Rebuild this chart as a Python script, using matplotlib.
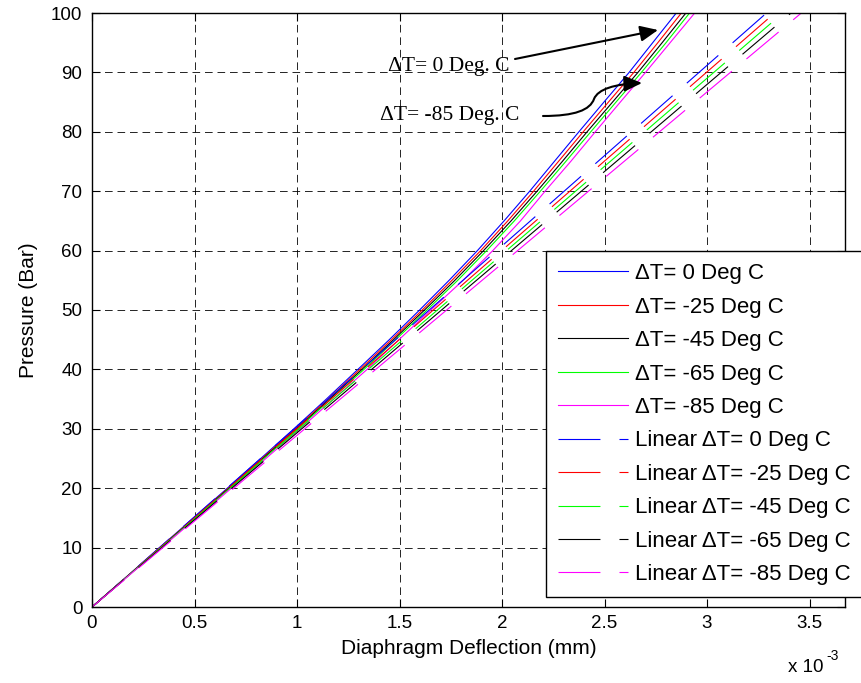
import matplotlib.pyplot as plt
from matplotlib.patches import FancyArrowPatch
from matplotlib.path import Path

plt.rcParams['font.family'] = ['Liberation Sans', 'DejaVu Sans']
plt.rcParams['lines.scale_dashes'] = False

# ===== data (deflection in units of 1e-3 mm) =====
pressure = [0, 5, 10, 15, 20, 25, 30, 35, 40, 45, 50,
            55, 60, 65, 70, 75, 80, 85, 90, 95, 100]

defl_0 = [0, 0.165, 0.330, 0.495, 0.660, 0.823, 0.985, 1.143, 1.297, 1.450, 1.598,
          1.742, 1.880, 2.010, 2.135, 2.255, 2.375, 2.497, 2.620, 2.735, 2.850]
defl_25 = [0, 0.166, 0.332, 0.499, 0.665, 0.829, 0.992, 1.151, 1.307, 1.461, 1.611,
           1.756, 1.896, 2.028, 2.154, 2.275, 2.396, 2.519, 2.643, 2.760, 2.875]
defl_45 = [0, 0.167, 0.334, 0.502, 0.669, 0.834, 0.998, 1.159, 1.317, 1.471, 1.622,
           1.770, 1.910, 2.044, 2.171, 2.294, 2.415, 2.539, 2.663, 2.781, 2.897]
defl_65 = [0, 0.168, 0.336, 0.505, 0.673, 0.839, 1.005, 1.166, 1.327, 1.481, 1.634,
           1.784, 1.925, 2.060, 2.187, 2.311, 2.433, 2.556, 2.680, 2.800, 2.915]
defl_85 = [0, 0.170, 0.340, 0.510, 0.680, 0.848, 1.015, 1.178, 1.342, 1.497, 1.653,
           1.810, 1.955, 2.090, 2.210, 2.335, 2.455, 2.577, 2.700, 2.820, 2.940]

# linear approximations: straight lines from (0,0) to (end, 100 bar)
lin_pressure = [0, 100]
lin_end = [3.29, 3.33, 3.37, 3.41, 3.46]

curve_labels = ['ΔT= 0 Deg C', 'ΔT= -25 Deg C', 'ΔT= -45 Deg C',
                'ΔT= -65 Deg C', 'ΔT= -85 Deg C']
curve_colors = ['#0000ff', '#ff0000', '#000000', '#00ff00', '#ff00ff']
lin_labels = ['Linear ΔT= 0 Deg C', 'Linear ΔT= -25 Deg C', 'Linear ΔT= -45 Deg C',
              'Linear ΔT= -65 Deg C', 'Linear ΔT= -85 Deg C']
lin_colors = ['#0000ff', '#ff0000', '#00ff00', '#000000', '#ff00ff']

x_ticks = [0, 0.5, 1, 1.5, 2, 2.5, 3, 3.5]
x_ticklabels = ['0', '0.5', '1', '1.5', '2', '2.5', '3', '3.5']
y_ticks = [0, 10, 20, 30, 40, 50, 60, 70, 80, 90, 100]

W, H = 862, 683

fig = plt.figure(figsize=(8.62, 6.83), dpi=100)
ax = fig.add_axes([92 / W, (H - 607) / H, (845 - 92) / W, (607 - 13) / H])

for d, c, lab in zip([defl_0, defl_25, defl_45, defl_65, defl_85], curve_colors, curve_labels):
    ax.plot(d, pressure, color=c, lw=0.8, label=lab)

for e, c, lab in zip(lin_end, lin_colors, lin_labels):
    ax.plot([0, e], lin_pressure, color=c, lw=0.8, dashes=(30.2, 13.7), label=lab)

ax.set_xlim(0, 3.673)
ax.set_ylim(0, 100)
ax.set_xticks(x_ticks)
ax.set_xticklabels(x_ticklabels)
ax.set_yticks(y_ticks)
ax.tick_params(direction='in', top=True, right=True, length=6, width=0.8,
               labelsize=13.5, pad=6)
ax.tick_params(axis='y', pad=7)
for s in ax.spines.values():
    s.set_linewidth(1.0)
ax.grid(True, color='k', lw=0.6, linestyle=(0, (5.5, 3.5)))

ax.set_xlabel('Diaphragm Deflection (mm)', fontsize=15, labelpad=5)
ax.set_ylabel('Pressure (Bar)', fontsize=15, labelpad=9)

leg = ax.legend(loc='upper left', bbox_to_anchor=(546 / W, 1 - 251 / H),
                bbox_transform=fig.transFigure, fontsize=16, fancybox=False,
                edgecolor='k', framealpha=1, borderaxespad=0, handlelength=3.15,
                handletextpad=0.32, labelspacing=0.56, borderpad=0.55)
leg.get_frame().set_linewidth(1.0)

# x 10^-3 multiplier
fig.text(788 / W, 1 - 672 / H, 'x 10', fontsize=13.5, va='baseline')
fig.text(826 / W, 1 - 660 / H, '-3', fontsize=10, va='baseline')

# annotations
fig.text(388 / W, 1 - 71 / H, 'ΔT= 0 Deg. C', family='Liberation Serif',
         fontsize=15.5, va='baseline')
fig.text(380 / W, 1 - 120 / H, 'ΔT= -85 Deg. C', family='Liberation Serif',
         fontsize=15.5, va='baseline')


def fp(x, y):
    return (x / W, 1 - y / H)


arrow1 = FancyArrowPatch(posA=fp(515, 59), posB=fp(658, 30), transform=fig.transFigure,
                         arrowstyle='-|>,head_length=0.54,head_width=0.24',
                         mutation_scale=20, lw=1.5, color='k', shrinkA=0, shrinkB=0)
fig.add_artist(arrow1)

verts = [fp(543, 116), fp(575, 116), fp(590, 110), fp(594, 99),
         fp(598, 89), fp(615, 84), fp(642, 83)]
codes = [Path.MOVETO, Path.CURVE4, Path.CURVE4, Path.CURVE4,
         Path.CURVE4, Path.CURVE4, Path.CURVE4]
arrow2 = FancyArrowPatch(path=Path(verts, codes), transform=fig.transFigure,
                         arrowstyle='-|>,head_length=0.54,head_width=0.24',
                         mutation_scale=20, lw=1.5, color='k')
fig.add_artist(arrow2)

fig.savefig('out.png', dpi=100)
